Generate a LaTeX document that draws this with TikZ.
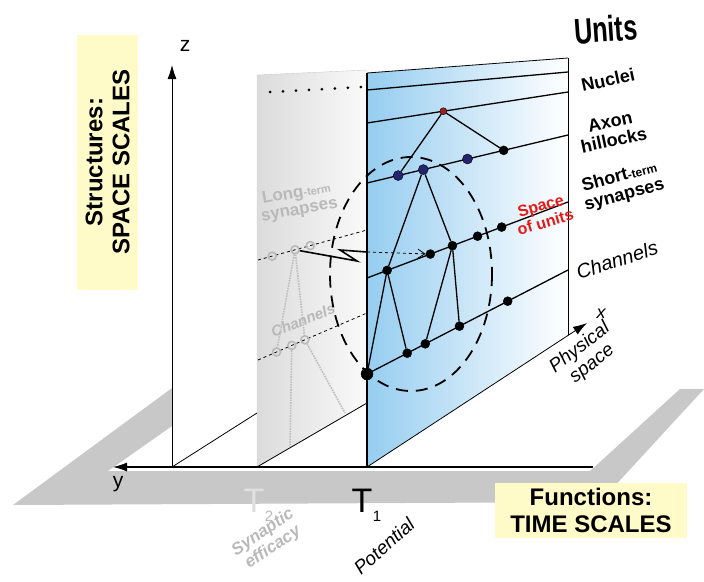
\documentclass[tikz,border=0pt]{standalone}
\usepackage{fontspec}
\usepackage{graphicx}
\setmainfont{Liberation Sans}
\usetikzlibrary{arrows.meta}
\definecolor{floorgray}{RGB}{200,200,200}
\definecolor{notepad}{RGB}{255,251,200}
\definecolor{unitblue}{RGB}{150,205,240}
\definecolor{synblue}{RGB}{35,35,110}
\definecolor{axonred}{RGB}{160,30,30}
\definecolor{spacered}{RGB}{230,25,25}
\definecolor{ghostgray}{RGB}{185,185,185}
\tikzset{
  unit/.style={circle,draw=black,fill=black,inner sep=0pt,minimum size=9pt},
  syn/.style={unit,fill=synblue,minimum size=10pt},
  ghost/.style={circle,draw=gray!55,line width=1.6pt,fill=none,inner sep=0pt,minimum size=8pt},
  level/.style={line width=1.3pt},
  tag/.style={font=\bfseries\fontsize{18}{19}\selectfont,align=center},
}
\begin{document}
\begin{tikzpicture}[x=1pt,y=-1pt]
\useasboundingbox (0,0) rectangle (704,581);
% floor frame
\fill[floorgray] (13,505) -- (600,502) -- (704,389) -- (680,389) -- (590,471)
  -- (108,471) -- (172,426) -- (172,388) -- cycle;
\coordinate (O) at (172,467);
\coordinate (T2) at (257,467);
\coordinate (T1) at (367,467);
\coordinate (yend) at (113,467);
\coordinate (zend) at (172,65);
\coordinate (base) at (593,467);
\coordinate (xend) at (587,323);
% plane T2
\shade[left color=gray!28,right color=gray!4,draw=gray!40] (T2) -- (367,403) -- (367,70) -- (257,75) -- cycle;
\draw[thick] (O) -- (257,413);
\draw[thick] (T2) -- (367,403);
% plane T1, levels left (a) and right (b)
\coordinate (a0) at (367,73);  \coordinate (b0) at (568,58);
\coordinate (a1) at (367,90);  \coordinate (b1) at (568,72);
\coordinate (a2) at (367,123); \coordinate (b2) at (568,92);
\coordinate (a3) at (367,183); \coordinate (b3) at (568,135);
\coordinate (a4) at (367,278); \coordinate (b4) at (568,202);
\coordinate (a5) at (367,374); \coordinate (b5) at (568,270);
\coordinate (b6) at (568,335);
\shade[left color=unitblue,right color=white] (T1) -- (b6) -- (b0) -- (a0) -- cycle;
% axes
\draw[very thick] (O) -- (base);
\draw[very thick,-{Latex[length=14pt,width=9pt]}] (O) -- (yend);
\draw[thick,-{Latex[length=14pt,width=9pt]}] (O) -- (zend);
\draw[thick,-{Latex[length=14pt,width=9pt]}] (T1) -- (xend);
\node[font=\fontsize{21}{21}\selectfont] (zlab) at (185,46) {z};
\node[font=\fontsize{21}{21}\selectfont] (ylab) at (118,484) {y};
% levels of T1
\draw[thick] (a0) -- (b0);
\foreach \i in {1,...,5}
  \draw[level] (a\i) -- (b\i);
\draw[semithick] (b6) -- (b0);
\draw[line width=2.2pt] (T1) -- (a0);
% levels of T2
\coordinate (c1) at (258,260); \coordinate (d1) at (367,230);
\coordinate (c2) at (258,360); \coordinate (d2) at (367,313);
\draw[line width=3pt,line cap=round,dash pattern=on 0pt off 13pt] (270,92) -- (362,87);
\draw[dashed,thick] (c1) -- (d1);
\draw[dashed,thick] (c2) -- (d2);
\path (c1) -- (d1)
  node[ghost,pos=.13] (u1) {}
  node[ghost,pos=.34] (u2) {}
  node[ghost,pos=.48] (u3) {};
\path (c2) -- (d2)
  node[ghost,pos=.17] (l1) {}
  node[ghost,pos=.31] (l2) {}
  node[ghost,pos=.43] (l3) {};
\coordinate (g1) at (290,447);
\coordinate (g2) at (345,413);
\draw[gray!50,densely dotted,line width=1.6pt] (u2) -- (l1) (u2) -- (l3) (l2) -- (g1) (l3) -- (g2);
\node[ghostgray,font=\bfseries\fontsize{17}{17}\selectfont,align=center,rotate=10] (ltsyn) at (298,202)
  {Long{\fontsize{11}{11}\selectfont-term}\\synapses};
\node[ghostgray,font=\bfseries\itshape\fontsize{15}{15}\selectfont,rotate=22] (gchan) at (303,320) {Channels};
% units of T1
\path (a2) -- (b2) node[unit,fill=axonred,minimum size=7pt,pos=.38] (r) {};
\path (a3) -- (b3)
  node[syn,pos=.155] (s1) {}
  node[syn,pos=.28] (s2) {}
  node[syn,pos=.5] (s3) {}
  node[unit,pos=.68] (s4) {};
\path (a4) -- (b4)
  node[unit,pos=.10] (m1) {}
  node[unit,pos=.315] (m2) {}
  node[unit,pos=.425] (m3) {}
  node[unit,pos=.55] (m4) {}
  node[unit,pos=.67] (m5) {};
\path (a5) -- (b5)
  node[unit,minimum size=12pt,pos=0] (c0) {}
  node[unit,pos=.2] (k1) {}
  node[unit,pos=.29] (k2) {}
  node[unit,pos=.46] (k3) {}
  node[unit,pos=.70] (k4) {};
\draw[level] (r) -- (s1) (r) -- (s4);
\draw[level] (s2) -- (m1) (s2) -- (m3);
\draw[level] (m1) -- (c0) (m1) -- (k1);
\draw[level] (m3) -- (k2) (m3) -- (k3);
% long-term to potential
\coordinate (z1) at (357,261);
\coordinate (z2) at (340,250);
\coordinate (z3) at (367,252);
\draw[line width=1.6pt,line join=miter] (u2) -- (z1) -- (z2) -- (z3);
\draw[dashed,thick,-{Straight Barb[length=7pt,width=9pt]}] (z3) -- (m2);
% space of units
\draw[line width=1.8pt,dash pattern=on 12pt off 8pt] (411,274) ellipse [x radius=81,y radius=117];
% labels
\node[font=\bfseries\fontsize{36}{36}\selectfont,rotate=4] (units) at (606,29) {\scalebox{.7}[1]{Units}};
\node[tag,rotate=12] (nuclei) at (608,80) {Nuclei};
\node[tag,rotate=12] (axon) at (612,131) {Axon\\hillocks};
\node[tag,rotate=15] (short) at (622,186) {Short{\fontsize{12}{12}\selectfont-term}\\synapses};
\node[font=\itshape\fontsize{20}{20}\selectfont,rotate=18] (chan) at (617,260) {Channels};
\node[font=\itshape\fontsize{18}{18}\selectfont] (xlab) at (601,314) {x};
\node[font=\itshape\fontsize{19}{20}\selectfont,align=center,rotate=38] (phys) at (586,356) {Physical\\space};
\node[spacered,font=\bfseries\fontsize{16}{17}\selectfont,align=center,rotate=16] (sou) at (543,214) {Space\\of units};
\node[font=\itshape\fontsize{19}{19}\selectfont,rotate=42] (pot) at (384,546) {Potential};
\node[ghostgray,font=\bfseries\itshape\fontsize{17}{18}\selectfont,align=center,rotate=34] (eff) at (268,540) {Synaptic\\efficacy};
\node[font=\fontsize{34}{34}\selectfont] (t1) at (362,501) {T};
\node[font=\fontsize{15}{15}\selectfont] (t1s) at (377,516) {1};
\node[gray!25,font=\fontsize{34}{34}\selectfont] (t2) at (254,501) {T};
\node[ghostgray,font=\fontsize{15}{15}\selectfont] (t2s) at (269,516) {2};
% scale boxes
\node[fill=notepad,rotate=90,minimum width=255pt,minimum height=61pt,align=center,
  font=\bfseries\fontsize{24}{27}\selectfont] (space) at (107.5,162) {Structures:\\SPACE SCALES};
\node[fill=notepad,minimum width=192pt,minimum height=55pt,align=center,
  font=\bfseries\fontsize{24}{27}\selectfont] (time) at (591,510.5) {Functions:\\TIME SCALES};
\end{tikzpicture}
\end{document}
